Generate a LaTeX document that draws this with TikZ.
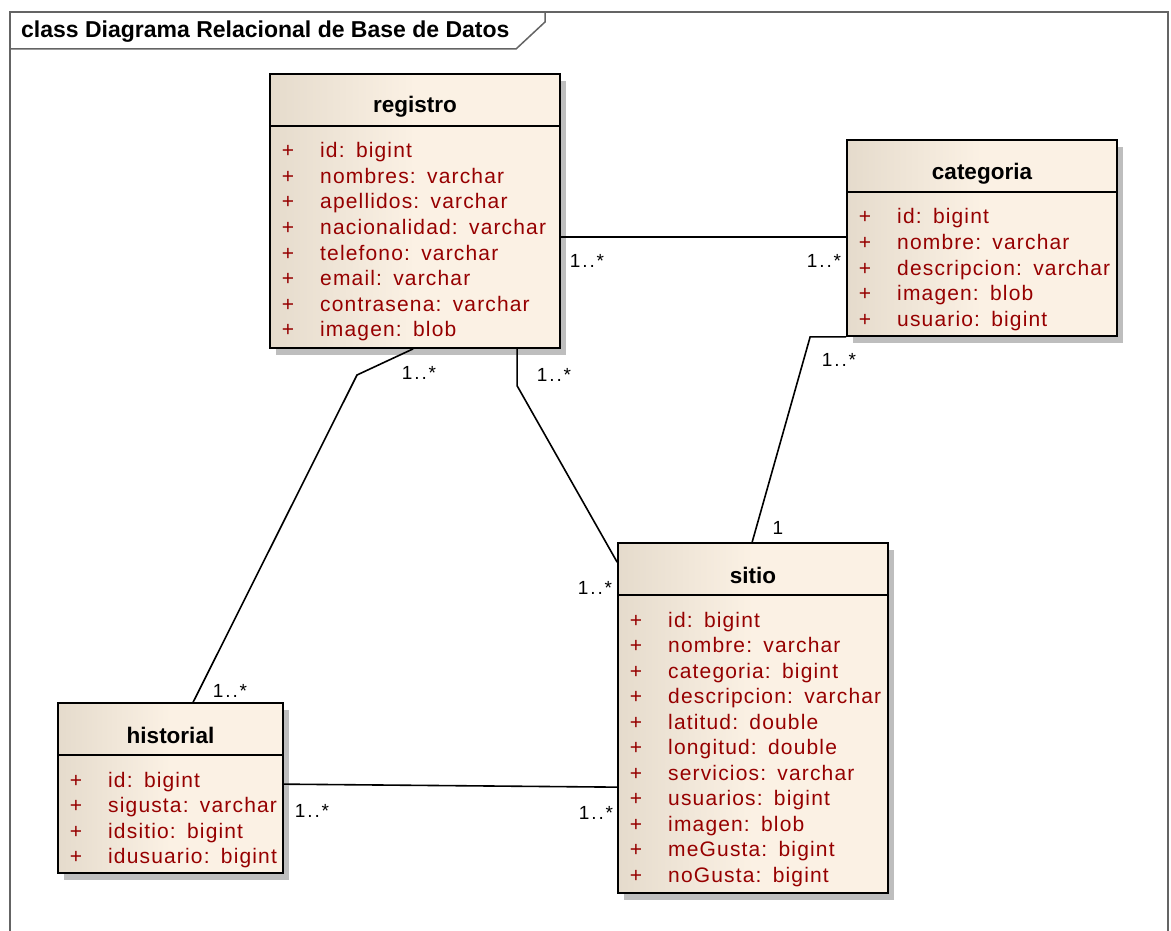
\documentclass[tikz,border=0pt]{standalone}
\usepackage{fontspec}
\setmainfont{Liberation Sans}
\newfontfamily\attrfont[LetterSpace=5.5]{Liberation Sans}
\newfontfamily\multfont[LetterSpace=10]{Liberation Sans}
\usetikzlibrary{shadows,calc}
\definecolor{attrred}{RGB}{150,0,0}
\definecolor{boxL}{RGB}{229,219,204}
\definecolor{boxR}{RGB}{251,241,228}
\definecolor{shadowgray}{RGB}{190,190,190}
\definecolor{framegray}{RGB}{100,100,100}
\tikzset{
  classbox/.style={rectangle, draw=black, line width=1.7pt, inner sep=0pt,
    left color=boxL, right color=boxR, middle color=boxR,
    drop shadow={shadow xshift=6pt, shadow yshift=-7pt, fill=shadowgray, opacity=1}},
  headerline/.style={draw=black, line width=1.5pt},
  classtitle/.style={anchor=base, inner sep=0pt, text=black,
    font=\fontsize{22.5}{22.5}\selectfont\bfseries},
  plussign/.style={anchor=base, inner sep=0pt, text=attrred,
    font=\attrfont\fontsize{21}{21}\selectfont},
  attrtext/.style={anchor=base west, inner sep=0pt, text=attrred,
    font=\attrfont\fontsize{21}{21}\selectfont},
  mult/.style={inner sep=0pt, text=black, font=\multfont\fontsize{19}{19}\selectfont},
  conn/.style={draw=black, line width=1.6pt},
  framestyle/.style={draw=framegray, line width=1.5pt},
  frametitle/.style={anchor=base west, inner sep=0pt, text=black,
    font=\fontsize{23}{23}\selectfont\bfseries}
}
\newcommand\classattrs[4]{%
  \foreach \aname/\atype [count=\i from 0] in {#4}{
    \node[plussign] (#1-p\i) at ({#2+18},{#3+\i*25.5}) {+};
    \node[attrtext] (#1-a\i) at ({#2+50},{#3+\i*25.5}) {\aname: \hspace{2pt}\atype};
  }}
\begin{document}
\begin{tikzpicture}[x=1pt,y=-1pt]
\useasboundingbox (0,0) rectangle (1171,931);
% frame
\draw[framestyle] (10,931) -- (10,12) -- (1168,12) -- (1168,931);
\draw[framestyle] (10,49) -- (516,49) -- (545,22) -- (545,12);
\node[frametitle] (frametitle) at (21,38) {class Diagrama Relacional de Base de Datos};

% boxes
\node[classbox, minimum width=290pt, minimum height=274pt] (registro) at (415,211) {};
\node[classbox, minimum width=270pt, minimum height=196pt] (categoria) at (982,238) {};
\node[classbox, minimum width=225pt, minimum height=170pt] (historial) at (170.5,788) {};
\node[classbox, minimum width=270pt, minimum height=350pt] (sitio) at (753,718) {};

% header lines
\draw[headerline] ([yshift=-53pt]registro.north west) -- ([yshift=-53pt]registro.north east);
\draw[headerline] ([yshift=-53pt]categoria.north west) -- ([yshift=-53pt]categoria.north east);
\draw[headerline] ([yshift=-53pt]historial.north west) -- ([yshift=-53pt]historial.north east);
\draw[headerline] ([yshift=-53pt]sitio.north west) -- ([yshift=-53pt]sitio.north east);

% titles
\node[classtitle] (registro-t) at (415,113) {registro};
\node[classtitle] (categoria-t) at (982,180) {categoria};
\node[classtitle] (historial-t) at (170.5,743) {historial};
\node[classtitle] (sitio-t) at (753,583) {sitio};

% attributes
\classattrs{reg}{270}{158}{id/bigint, nombres/varchar, apellidos/varchar, nacionalidad/varchar, telefono/varchar, email/varchar, contrasena/varchar, imagen/blob}
\classattrs{cat}{847}{224}{id/bigint, nombre/varchar, descripcion/varchar, imagen/blob, usuario/bigint}
\classattrs{his}{58}{787}{id/bigint, sigusta/varchar, idsitio/bigint, idusuario/bigint}
\classattrs{sit}{618}{627}{id/bigint, nombre/varchar, categoria/bigint, descripcion/varchar, latitud/double, longitud/double, servicios/varchar, usuarios/bigint, imagen/blob, meGusta/bigint, noGusta/bigint}

% connectors
\draw[conn] ($(registro.north east)+(0,164)$) -- ($(categoria.north west)+(0,98)$);
\draw[conn] ($(registro.south west)+(144,0)$) -- (357,375) -- ($(historial.north west)+(136,0)$);
\draw[conn] ($(registro.south west)+(248,0)$) -- ++(0,37) -- ($(sitio.north west)+(0,20)$);
\draw[conn] (categoria.south west) -- ++(-36,0) -- ($(sitio.north west)+(135,0)$);
\draw[conn] ($(historial.north east)+(0,82)$) -- ($(sitio.north west)+(0,245)$);

% multiplicities
\node[mult] (m-rc1) at (587,261) {1..*};
\node[mult] (m-rc2) at (824,261) {1..*};
\node[mult] (m-rh1) at (419,373) {1..*};
\node[mult] (m-rh2) at (230,691) {1..*};
\node[mult] (m-rs1) at (554,375) {1..*};
\node[mult] (m-rs2) at (595,588) {1..*};
\node[mult] (m-cs1) at (839,360) {1..*};
\node[mult] (m-cs2) at (778,528) {1};
\node[mult] (m-hs1) at (312,811) {1..*};
\node[mult] (m-hs2) at (596,813) {1..*};
\end{tikzpicture}
\end{document}
